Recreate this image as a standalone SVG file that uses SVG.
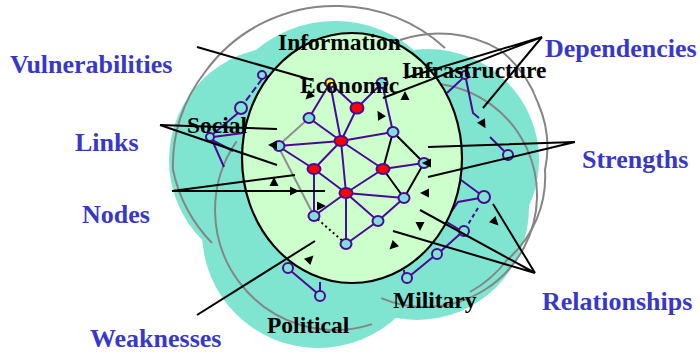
<svg xmlns="http://www.w3.org/2000/svg" width="700" height="353" viewBox="0 0 700 353">
<style>
.blob{fill:#80e5d0}
.arc{fill:none;stroke:#858585;stroke-width:2}
.ln{stroke:#4a0a96;stroke-width:2;fill:none}
.gl{stroke:#909090;stroke-width:2;fill:none}
.bk{stroke:#000;stroke-width:2;fill:none}
.ptr{stroke:#000;stroke-width:2;fill:none}
.on{fill:#80e5d0;stroke:#4a0a96;stroke-width:2}
.lb{fill:#80e0d8;stroke:#4a0a96;stroke-width:2}
.rd{fill:#ff0000;stroke:#4a0a96;stroke-width:2}
.yl{fill:#ffff00;stroke:#4a0a96;stroke-width:2}
.lab{font-family:"Liberation Serif","Times New Roman",serif;font-weight:bold;font-size:26px;fill:#3838c8}
.dom{font-family:"Liberation Serif","Times New Roman",serif;font-weight:bold;font-size:23.5px;fill:#000}
.tri{fill:#000}
</style>
<defs>
<path id="tri" d="M-4,-4.5 L5,0 L-4,4.5 Z" class="tri"/>
</defs>
<rect width="700" height="353" fill="#fff"/>
<g id="blob">
<circle class="blob" cx="282" cy="160" r="113"/>
<circle class="blob" cx="335" cy="143" r="122"/>
<circle class="blob" cx="428" cy="160" r="111"/>
<circle class="blob" cx="417" cy="208" r="112"/>
<circle class="blob" cx="318" cy="232" r="116"/>
</g>
<g id="rings">
<path class="arc" d="M212,243 A150,150 0 0 1 173,170 A150,150 0 0 1 205,72 A160,160 0 0 1 340,6 A160,160 0 0 1 445,48"/>
<path class="arc" d="M400,40 A120,120 0 0 1 500,50 A120,120 0 0 1 538,103 A110,110 0 0 1 545,170 A110,110 0 0 1 507,260 A120,120 0 0 1 470,292"/>
<path class="arc" d="M236.7,141.2 A120,120 0 0 0 372.1,324.1"/>
<path class="arc" d="M381.2,298.1 A112,112 0 1 0 386.7,89.8"/>
</g>
<g id="outer-links">
<path class="ln" d="M262,79 L245,102" stroke-dasharray="7 3"/>
<path class="ln" d="M238,113 L213,134 M213,137 L243,133 M212,140 L224,167 M212,140 L233,151 M262,71 L270,80"/>
<path class="ln" d="M447,93 L463,78 M466,79 L473,113 L479,118 M490,137 L504,151"/>
<path class="ln" d="M461,180 L480,194 M480,198 L458,202 L445,221 L460,230 M460,234 L441,251 M433,257 L411,275 M405,280 L404,270"/>
<path class="ln" d="M478,208 L467,226" stroke-dasharray="4 3"/>
<path class="ln" d="M291,271 L317,293 M320,282 L320,292"/>
</g>
<g id="outer-nodes">
<g id="o1"><circle class="on" cx="262" cy="75" r="4"/></g>
<g id="o2"><circle class="on" cx="241" cy="108" r="6"/></g>
<g id="o3"><circle class="on" cx="210" cy="137" r="4"/></g>
<g id="o4"><circle class="on" cx="465" cy="75" r="4"/></g>
<g id="o5"><circle class="on" cx="508" cy="155" r="5"/></g>
<g id="o6"><circle class="on" cx="484" cy="197" r="6"/></g>
<g id="o7"><circle class="on" cx="464" cy="231" r="5"/></g>
<g id="o8"><circle class="on" cx="437" cy="254" r="5"/></g>
<g id="o9"><circle class="on" cx="407" cy="278" r="5"/></g>
<g id="o10"><circle class="on" cx="288" cy="268" r="5"/></g>
<g id="o11"><circle class="on" cx="320" cy="296" r="5"/></g>
</g>
<g id="core"><ellipse cx="352" cy="158" rx="110" ry="125" fill="#ccffcc" stroke="#000" stroke-width="2.2"/></g>
<g id="net-links">
<path class="ln" d="M330,83 L357,108 M330,83 L341,141 M357,108 L382,83 M357,108 L341,141 M382,83 L393,132 M309,118 L330,83 M309,118 L341,141 M341,141 L393,132 M341,141 L278,146 M341,141 L314,169 M341,141 L383,169 M341,141 L346,193 M278,146 L314,169 M314,169 L346,193 M383,169 L346,193 M383,169 L424,163 M346,193 L404,198 M346,193 L378,221 M346,193 L314,216 M346,193 L346,244 M314,169 L314,216 M404,198 L378,221 M378,221 L346,244"/>
<path class="gl" d="M309,118 L278,146 L314,216"/>
<path class="bk" d="M393,132 L383,169 M393,132 L424,163 L404,198 M383,169 L404,198"/>
<path class="bk" d="M314,216 L346,244" stroke-dasharray="2 3"/>
</g>
<g id="net-nodes">
<g id="n-yellow"><circle class="yl" cx="330" cy="83" r="4.5"/></g>
<g id="n-b1"><ellipse class="lb" cx="382" cy="83" rx="5.5" ry="5"/></g>
<g id="n-b2"><ellipse class="lb" cx="309" cy="118" rx="5.5" ry="5"/></g>
<g id="n-b3"><ellipse class="lb" cx="393" cy="132" rx="5.5" ry="5"/></g>
<g id="n-b4"><ellipse class="lb" cx="279" cy="146" rx="5.5" ry="5"/></g>
<g id="n-b5"><ellipse class="lb" cx="424" cy="163" rx="5.5" ry="5"/></g>
<g id="n-b6"><ellipse class="lb" cx="404" cy="198" rx="5.5" ry="5"/></g>
<g id="n-b7"><ellipse class="lb" cx="314" cy="216" rx="5.5" ry="5"/></g>
<g id="n-b8"><ellipse class="lb" cx="378" cy="221" rx="5.5" ry="5"/></g>
<g id="n-b9"><ellipse class="lb" cx="346" cy="244" rx="5.5" ry="5"/></g>
<g id="n-r1"><ellipse class="rd" cx="357" cy="108" rx="6.5" ry="5.5"/></g>
<g id="n-r2"><ellipse class="rd" cx="341" cy="141" rx="6.5" ry="5"/></g>
<g id="n-r3"><ellipse class="rd" cx="314" cy="169" rx="6.5" ry="5"/></g>
<g id="n-r4"><ellipse class="rd" cx="383" cy="169" rx="6.5" ry="5"/></g>
<g id="n-r5"><ellipse class="rd" cx="346" cy="193" rx="6.5" ry="5"/></g>
</g>
<g id="domains">
<g id="d-information"><text class="dom" x="278" y="50">Information</text></g>
<g id="d-economic"><text class="dom" x="300" y="93">Economic</text></g>
<g id="d-infrastructure"><text class="dom" x="402" y="78">Infrastructure</text></g>
<g id="d-social"><text class="dom" x="187" y="133">Social</text></g>
<g id="d-political"><text class="dom" x="267" y="333">Political</text></g>
<g id="d-military"><text class="dom" x="393" y="308">Military</text></g>
</g>
<g id="connectors">
<path class="ptr" d="M197,47 L312,80"/>
<path class="ptr" d="M160,125 L277,129 M160,125 L277,165"/>
<path class="ptr" d="M172,191 L295,175 M172,191 L325,191"/>
<path class="ptr" d="M197,315 L315,241"/>
<path class="ptr" d="M542,37 L383,98 M542,37 L405,78 M542,37 L483,108"/>
<path class="ptr" d="M575,142 L428,147 M575,142 L428,177"/>
<path class="ptr" d="M535,273 L493,204 M535,273 L420,210 M535,273 L393,231"/>
</g>
<g id="arrowheads">
<use href="#tri" transform="translate(309,96) rotate(135)"/>
<use href="#tri" transform="translate(405,96) rotate(-90)"/>
<use href="#tri" transform="translate(380,115) rotate(-120)"/>
<use href="#tri" transform="translate(483,124) rotate(60)"/>
<use href="#tri" transform="translate(427,163) rotate(180)"/>
<use href="#tri" transform="translate(273,145) rotate(180)"/>
<use href="#tri" transform="translate(274,182) rotate(-90)"/>
<use href="#tri" transform="translate(294,191) rotate(0)"/>
<use href="#tri" transform="translate(321,206) rotate(0)"/>
<use href="#tri" transform="translate(310,259) rotate(-45)"/>
<use href="#tri" transform="translate(425,193) rotate(180)"/>
<use href="#tri" transform="translate(420,226) rotate(90)"/>
<use href="#tri" transform="translate(393,246) rotate(135)"/>
<use href="#tri" transform="translate(495,222) rotate(45)"/>
</g>
<g id="labels">
<g id="l-vulnerabilities"><text class="lab" x="10" y="73">Vulnerabilities</text></g>
<g id="l-links"><text class="lab" x="75" y="151">Links</text></g>
<g id="l-nodes"><text class="lab" x="82" y="223">Nodes</text></g>
<g id="l-weaknesses"><text class="lab" x="90" y="347">Weaknesses</text></g>
<g id="l-dependencies"><text class="lab" x="545" y="57">Dependencies</text></g>
<g id="l-strengths"><text class="lab" x="582" y="168">Strengths</text></g>
<g id="l-relationships"><text class="lab" x="542" y="310">Relationships</text></g>
</g>
</svg>
